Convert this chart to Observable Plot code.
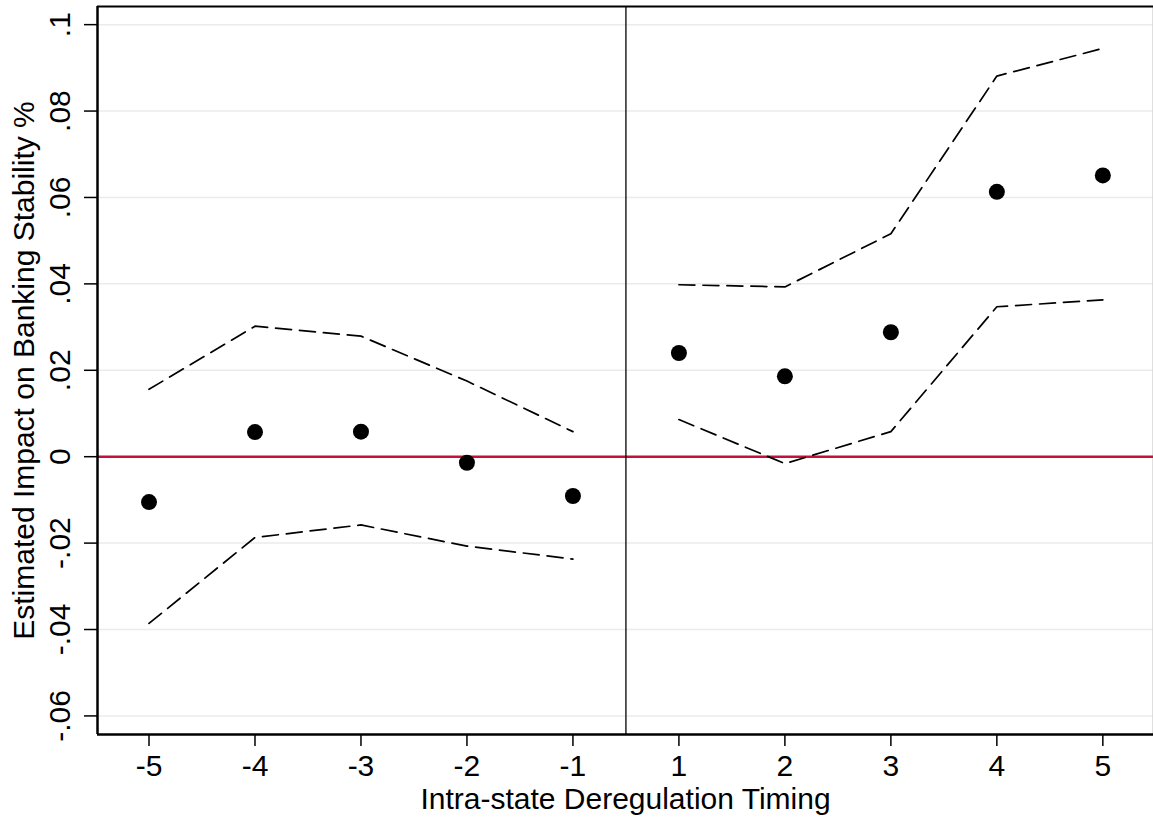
<!DOCTYPE html>
<html>
<head>
<meta charset="utf-8">
<script src="https://cdn.jsdelivr.net/npm/d3@7"></script>
<script src="https://cdn.jsdelivr.net/npm/@observablehq/plot@0.6"></script>
<style>
  html, body { margin: 0; padding: 0; background: #fff; }
  #chart svg { display: block; }
</style>
</head>
<body>
<div id="chart"></div>
<script>
// Event-time categories (x axis tick labels)
const timing = ["-5", "-4", "-3", "-2", "-1", "1", "2", "3", "4", "5"];
// Point estimates
const estimate = [-0.0105, 0.0057, 0.0058, -0.0014, -0.0091, 0.0240, 0.0186, 0.0288, 0.0613, 0.0651];
// Upper confidence bound
const upper = [0.0156, 0.0302, 0.0279, 0.0175, 0.0058, 0.0398, 0.0393, 0.0516, 0.0881, 0.0945];
// Lower confidence bound
const lower = [-0.0386, -0.0187, -0.0158, -0.0207, -0.0237, 0.0086, -0.0016, 0.0058, 0.0347, 0.0363];
// Period of each category
const period = ["pre", "pre", "pre", "pre", "pre", "post", "post", "post", "post", "post"];
// Y axis ticks and their labels
const yTicks = [-0.06, -0.04, -0.02, 0, 0.02, 0.04, 0.06, 0.08, 0.1];
const yTickLabels = ["-.06", "-.04", "-.02", "0", ".02", ".04", ".06", ".08", ".1"];
// Titles
const xTitle = "Intra-state Deregulation Timing";
const yTitle = "Estimated Impact on Banking Stability %";

const idx = timing.map((_, i) => i);
const data = timing.map((t, i) => ({i, t, est: estimate[i], lo: lower[i], hi: upper[i], period: period[i]}));
const breakPos = 4.5; // separator between pre and post periods
const xDomain = [-0.486, 9.478];
const yDomain = [-0.0643, 0.1042];
const font = "'Liberation Sans', Arial, Helvetica, sans-serif";
const FS = 30;

const chart = Plot.plot({
  width: 1153,
  height: 819,
  marginLeft: 97,
  marginRight: 0,
  marginTop: 6,
  marginBottom: 85,
  style: {fontFamily: font, background: "#fff", color: "#000", overflow: "visible"},
  x: {domain: xDomain},
  y: {domain: yDomain},
  marks: [
    Plot.ruleY(yTicks, {stroke: "#ebebeb", strokeWidth: 1.5}),
    Plot.ruleX([xDomain[1]], {stroke: "#d8d8d8", strokeWidth: 1, dx: -0.8}),
    Plot.ruleY([0], {stroke: "#c4103a", strokeWidth: 2.5}),
    Plot.ruleX([breakPos], {stroke: "#000", strokeWidth: 1.3}),
    Plot.line(data, {x: "i", y: "hi", z: "period", stroke: "#000", strokeWidth: 1.7, strokeDasharray: "16,8"}),
    Plot.line(data, {x: "i", y: "lo", z: "period", stroke: "#000", strokeWidth: 1.7, strokeDasharray: "16,8"}),
    Plot.dot(data, {x: "i", y: "est", r: 8, fill: "#000", stroke: "none"}),
    Plot.ruleY([yDomain[1]], {stroke: "#000", strokeWidth: 2}),
    Plot.ruleX([xDomain[0]], {stroke: "#000", strokeWidth: 2.5}),
    Plot.ruleY([yDomain[0]], {stroke: "#000", strokeWidth: 2.5}),
    Plot.axisX({ticks: idx, tickSize: 12, tickPadding: 8, tickFormat: (i) => timing[i], fontSize: FS, strokeWidth: 1.5, label: null}),
    Plot.axisY({ticks: yTicks, tickSize: 13, tickFormat: () => "", strokeWidth: 1.5, label: null}),
    Plot.text(yTicks, {y: (d) => d, text: (d, i) => yTickLabels[i], frameAnchor: "left", dx: -28, rotate: -90, lineAnchor: "bottom", textAnchor: "middle", fontSize: FS, fill: "#000"}),
    Plot.text([xTitle], {frameAnchor: "bottom", dy: 74, lineAnchor: "bottom", textAnchor: "middle", fontSize: FS, fill: "#000"}),
    Plot.text([yTitle], {frameAnchor: "left", dx: -64, rotate: -90, lineAnchor: "bottom", textAnchor: "middle", fontSize: FS, fill: "#000"})
  ]
});
document.getElementById("chart").appendChild(chart);
</script>
</body>
</html>
